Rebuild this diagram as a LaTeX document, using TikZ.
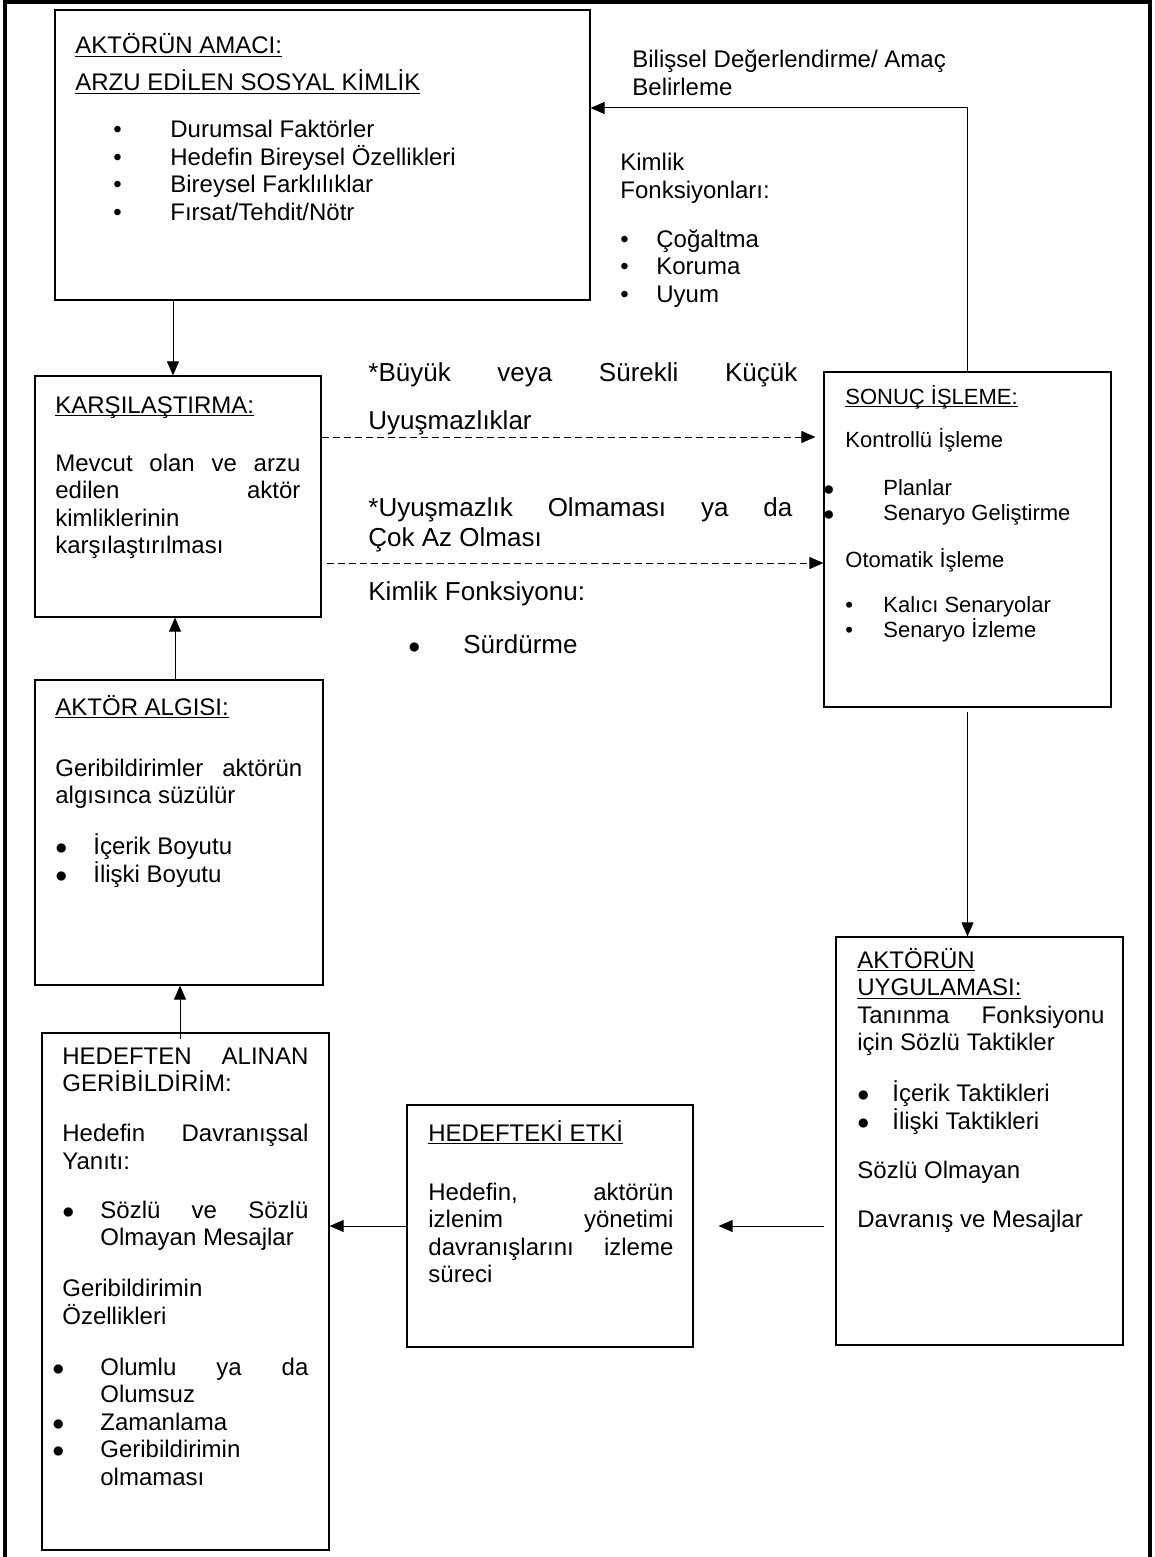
\documentclass[tikz,border=0pt]{standalone}
\usepackage{fontspec}
\setmainfont{Liberation Sans}
\usetikzlibrary{arrows.meta,calc}
\tikzset{
  panel/.style={draw,line width=0.6pt,inner sep=0pt},
  txt/.style={anchor=base west,inner sep=0pt,align=justify,font=\fontsize{12}{13.75}\selectfont},
  mid/.style={txt,font=\fontsize{13}{15}\selectfont},
  sml/.style={txt,font=\fontsize{11}{12.5}\selectfont},
  arr/.style={-{Triangle[length=7pt,width=6pt]},line width=0.5pt},
  darr/.style={arr,dash pattern=on 3.5pt off 2pt}
}
\newcommand{\uln}[1]{\underline{\smash{#1}}}
\newcommand{\sbul}{\textbullet}
\newcommand{\bbul}{$\bullet$}
\newcommand{\itm}[3]{\hspace*{#1}\makebox[#2][l]{#3}}

\begin{document}
\begin{tikzpicture}[x=0.5pt,y=-0.5pt]
\useasboundingbox (0,0) rectangle (1155,1557);
\draw[line width=2pt] (5,1557) -- (5,2) -- (1150,2) -- (1150,1557);
\foreach \n/\xa/\ya/\xb/\yb in {b1/55/10/590/300, b2/35/376/321/617, b3/35/680/323/985,
  b4/42/1033/329/1550, b5/407/1105/693/1347, b6/836/937/1123/1345, b7/824/372/1111/707}
  \node[panel,minimum width={(\xb-\xa)*0.5pt},minimum height={(\yb-\ya)*0.5pt}] (\n) at ({(\xa+\xb)/2},{(\ya+\yb)/2}) {};

\node[txt,text width=250pt] (t1) at (75,54) {\uln{AKTÖRÜN AMACI:}\\[4.75pt]
  \uln{ARZU EDİLEN SOSYAL KİMLİK}\\[9.75pt]
  \itm{19pt}{28.5pt}{\sbul}Durumsal Faktörler\\
  \itm{19pt}{28.5pt}{\sbul}Hedefin Bireysel Özellikleri\\
  \itm{19pt}{28.5pt}{\sbul}Bireysel Farklılıklar\\
  \itm{19pt}{28.5pt}{\sbul}Fırsat/Tehdit/Nötr};
\node[txt,text width=165pt] (l1) at (632,68) {Bilişsel Değerlendirme/ Amaç\\Belirleme};
\node[txt,text width=90pt] (l2) at (620,171) {Kimlik\\Fonksiyonları:\\[10.75pt]
  \itm{0pt}{18pt}{\sbul}Çoğaltma\\
  \itm{0pt}{18pt}{\sbul}Koruma\\
  \itm{0pt}{18pt}{\sbul}Uyum};
\node[txt,text width=122.5pt] (t2) at (55,413) {\uln{KARŞILAŞTIRMA:}\\[15.25pt]
  Mevcut\hfill olan\hfill ve\hfill arzu\\
  edilen\hfill aktör\\
  kimliklerinin\\
  karşılaştırılması};
\node[mid,text width=214.5pt] (l3) at (368,381) {*Büyük\hfill veya\hfill Sürekli\hfill Küçük\\[9pt]
  Uyuşmazlıklar};
\node[mid,text width=212pt] (l4) at (368,516) {*Uyuşmazlık\hfill Olmaması\hfill ya\hfill da\\
  Çok Az Olması};
\node[mid,text width=150pt] (l5) at (368,600) {Kimlik Fonksiyonu:\\[11.5pt]
  \itm{20pt}{27.5pt}{\bbul}Sürdürme};
\node[sml,text width=125pt] (t7) at (845,404) {\uln{SONUÇ İŞLEME:}\\[9pt]
  Kontrollü İşleme\\[11.5pt]
  \itm{-11pt}{30pt}{\bbul}Planlar\\
  \itm{-11pt}{30pt}{\bbul}Senaryo Geliştirme\\[11pt]
  Otomatik İşleme\\[10pt]
  \itm{0pt}{19pt}{\sbul}Kalıcı Senaryolar\\
  \itm{0pt}{19pt}{\sbul}Senaryo İzleme};
\node[txt,text width=123.5pt] (t3) at (55,715) {\uln{AKTÖR ALGISI:}\\[16.75pt]
  Geribildirimler\hfill aktörün\\
  algısınca süzülür\\[11.75pt]
  \itm{0pt}{19pt}{\bbul}İçerik Boyutu\\
  \itm{0pt}{19pt}{\bbul}İlişki Boyutu};
\node[txt,text width=123pt] (t4) at (62,1064) {HEDEFTEN\hfill ALINAN\\
  GERİBİLDİRİM:\\[11.25pt]
  Hedefin\hfill Davranışsal\\
  Yanıtı:\\[10.75pt]
  \itm{0pt}{19pt}{\bbul}Sözlü\hfill ve\hfill Sözlü\\
  \hspace*{19pt}Olmayan Mesajlar\\[11.75pt]
  Geribildirimin\\
  Özellikleri\\[11.75pt]
  \itm{-5pt}{24pt}{\bbul}Olumlu\hfill ya\hfill da\\
  \hspace*{19pt}Olumsuz\\
  \itm{-5pt}{24pt}{\bbul}Zamanlama\\
  \itm{-5pt}{24pt}{\bbul}Geribildirimin\\
  \hspace*{19pt}olmaması};
\node[txt,text width=122.5pt] (t5) at (428,1141) {\uln{HEDEFTEKİ ETKİ}\\[15.75pt]
  Hedefin,\hfill aktörün\\
  izlenim\hfill yönetimi\\
  davranışlarını\hfill izleme\\
  süreci};
\node[txt,text width=123.5pt] (t6) at (857,968) {\uln{AKTÖRÜN}\\
  \uln{UYGULAMASI:}\\
  Tanınma\hfill Fonksiyonu\\
  için Sözlü Taktikler\\[11.75pt]
  \itm{0pt}{17.5pt}{\bbul}İçerik Taktikleri\\
  \itm{0pt}{17.5pt}{\bbul}İlişki Taktikleri\\[10.75pt]
  Sözlü Olmayan\\[10.75pt]
  Davranış ve Mesajlar};

\draw[arr] ($(b2.north |- b1.south)+(-2.5pt,0)$) -- ($(b2.north)+(-2.5pt,0)$);
\draw[arr] ($(b3.north)+(-2pt,0)$) -- ($(b3.north |- b2.south)+(-2pt,0)$);
\draw[arr] ($(b4.north)+(-2.75pt,-3.5pt)$) -- ($(b4.north |- b3.south)+(-2.75pt,0)$);
\draw[darr,shorten >=4pt] ($(b2.east)+(0,29.75pt)$) -- ($(b2.east -| b7.west)+(0,29.75pt)$);
\draw[darr,shorten <=2.5pt] ($(b2.east)+(0,-33.25pt)$) -- ($(b2.east -| b7.west)+(0,-33.25pt)$);
\draw[arr] (b7.north) |- ($(b1.east)+(0,23.5pt)$);
\draw[arr,shorten <=2pt] (b7.south) -- (b7.south |- b6.north);
\draw[arr,shorten <=5.5pt,shorten >=12.5pt] (b6.west |- b5.east) -- (b5.east);
\draw[arr] (b5.west) -- (b5.west -| b4.east);
\end{tikzpicture}
\end{document}
